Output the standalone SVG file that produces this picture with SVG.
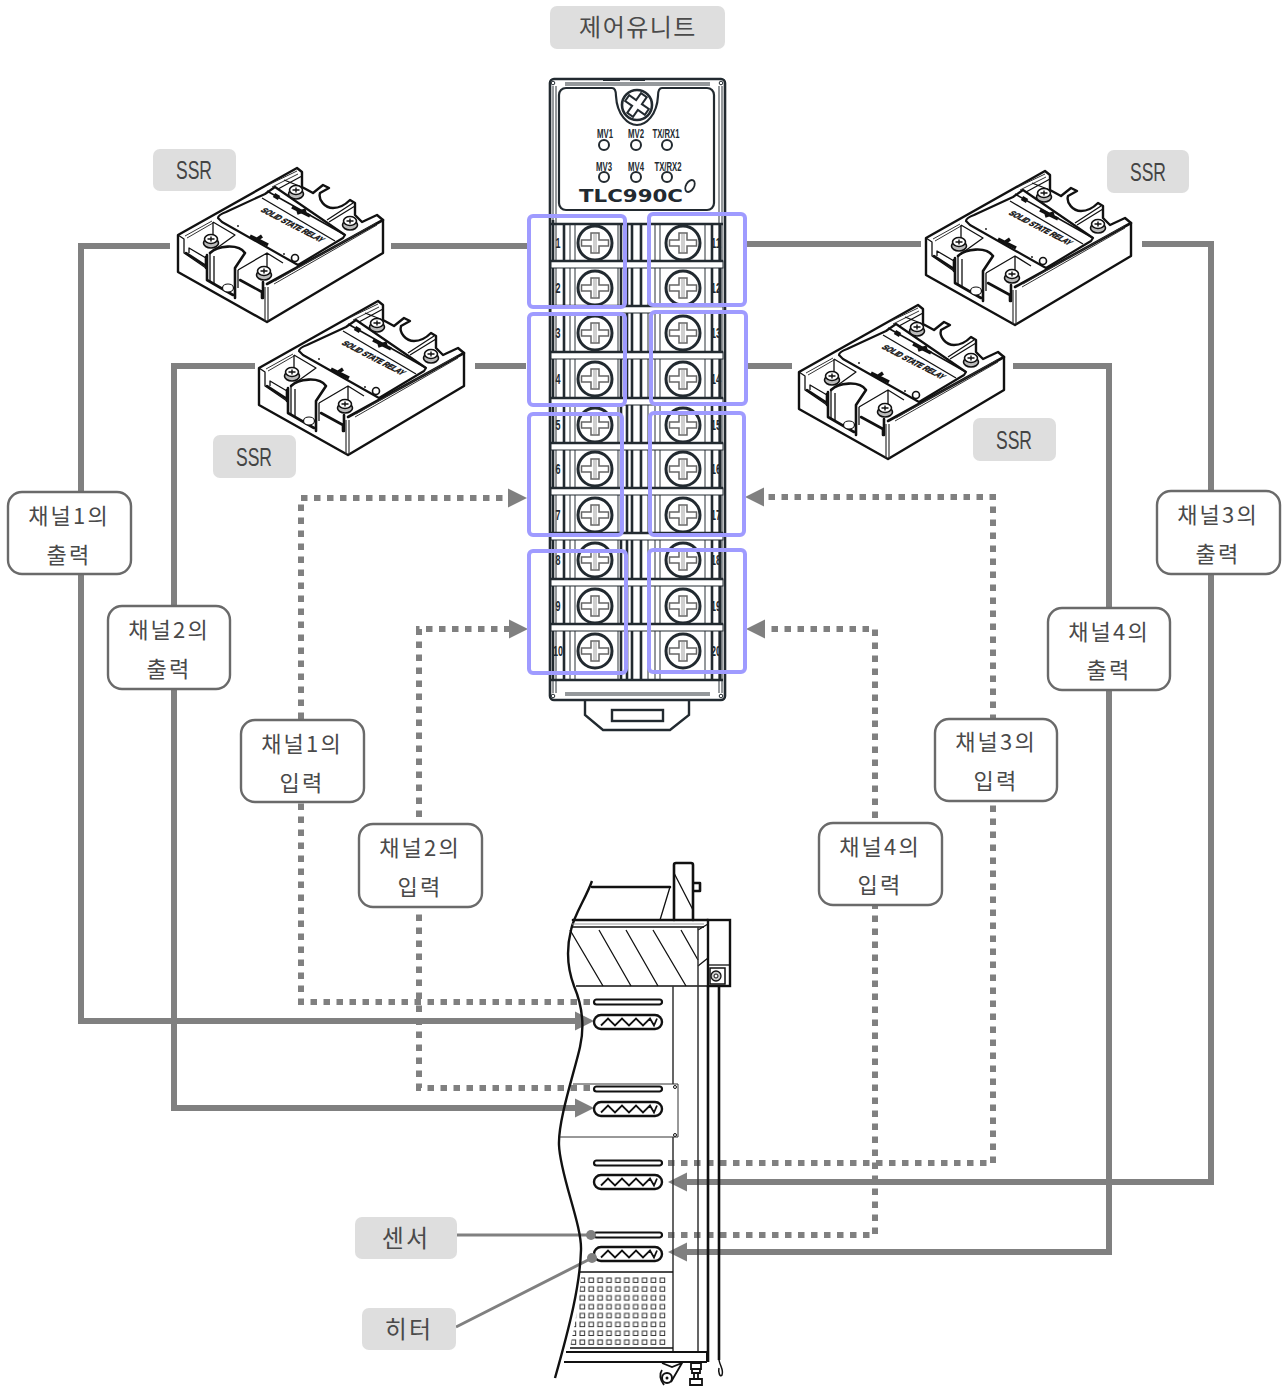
<svg xmlns="http://www.w3.org/2000/svg" width="1287" height="1394" viewBox="0 0 1287 1394">
<style>
.k{font-family:"Noto Sans CJK KR","Noto Sans",sans-serif;font-size:22px;fill:#4a4a4a;text-anchor:middle;font-weight:400;letter-spacing:2.2px}
.ssrt{font-family:"Liberation Sans",sans-serif;font-size:25px;fill:#444;text-anchor:middle}
.gray{fill:#dedede;stroke:none}
.box{fill:#fff;stroke:#6a6a6a;stroke-width:2.4}
.p{fill:none;stroke:#9f9bff;stroke-width:4}
.w{fill:none;stroke:#808080;stroke-width:6}
.d{fill:none;stroke:#808080;stroke-width:6;stroke-dasharray:6.5 6.5}
.t{fill:none;stroke:#111;stroke-width:1.3;stroke-linejoin:round}
.h{fill:none;stroke:#111;stroke-width:2.6;stroke-linejoin:round;stroke-linecap:round}
.dk{fill:none;stroke:#222a30;stroke-width:2.6}
.lt{fill:none;stroke:#2b3238;stroke-width:1}
.mv{font-family:"Liberation Sans",sans-serif;font-size:12px;font-weight:bold;fill:#222a30;text-anchor:middle}
.n{font-family:"Liberation Sans",sans-serif;font-size:14px;font-weight:bold;fill:#222a30;text-anchor:middle}
</style>
<defs>
<marker id="a" markerUnits="userSpaceOnUse" markerWidth="21" markerHeight="22" refX="0" refY="11" orient="auto"><path d="M0,1.5L19,11L0,20.5Z" fill="#808080"/></marker>
<pattern id="grid" patternUnits="userSpaceOnUse" x="579" y="1277" width="8.9" height="8.85"><rect x="1" y="1" width="4.6" height="4.4" fill="#fff" stroke="#333" stroke-width="1"/></pattern>
<g id="screw">
<circle r="17" fill="#fff" stroke="#222a30" stroke-width="3"/>
<path d="M-4,-10H4V-3H13.5V3H4V10H-4V3H-13.5V-3H-4Z" fill="#fff" stroke="#666" stroke-width="1.5"/>
<path d="M-1,-9V9M1,-9V9" stroke="#888" stroke-width=".8"/>
</g>
<g id="cap">
<ellipse cx="0" cy="3" rx="7.5" ry="5" fill="#bbb" stroke="#111" stroke-width="1.6"/>
<ellipse cx="0" cy="-1" rx="6.5" ry="4.5" fill="#fff" stroke="#111" stroke-width="1.6"/>
<path d="M-3.5,-1H3.5M0,-3.5V1.5" stroke="#111" stroke-width="1.4"/>
</g>
<g id="heater">
<rect x="-34" y="-7" width="68" height="14" rx="7" fill="#fff" stroke="#111" stroke-width="2.4"/>
<path d="M-27,3.5L-20,-3.5L-13,3.5L-6,-3.5L1,3.5L8,-3.5L15,3.5L22,-3.5L26,3.5L29,-3.5" fill="none" stroke="#111" stroke-width="1.8"/>
</g>
<g id="sensor"><rect x="-34" y="-2.5" width="68" height="5" rx="2.5" fill="#fff" stroke="#111" stroke-width="2.2"/></g>
<g id="ssr">
<path d="M178,235L297,168L302,172V187L313,193L323,185L329,188L320,193C318,200 325,208 333,208C340,208 346,204 350,200L355,203V215L362,222L377,215L383,220V253L267,322L178,272Z" fill="#fff" stroke="#111" stroke-width="2.4" stroke-linejoin="round"/>
<path d="M185,236L212,221M187,238L213,223M270,184L297,171M272,187L298,174" stroke="#333" stroke-width="1" fill="none"/>
<path class="t" d="M178,235L184,239V253L187,255L206,268V258L189,248V253M184,239"/>
<path class="h" d="M186,253L206,266M206,257V268"/>
<path class="t" d="M213,222V238M213,222L235,235L210,253"/>
<path class="h" d="M210,253C217,246 238,243 245,253L235,268V298M207,255V280L233,295"/>
<path class="t" d="M210,253V281M214,256V283M238,270V288"/>
<ellipse cx="228" cy="288" rx="5.5" ry="4" fill="#fff" stroke="#111" stroke-width="1.2"/>
<path class="t" d="M238,270L267,253L283,263M267,253V270"/>
<path class="h" d="M240,280L262,292M262,292V298M263,282V298"/>
<path class="h" d="M267,284L383,220"/>
<path d="M274,284L377,225M275,281L376,223" stroke="#333" stroke-width="1" fill="none"/>
<path d="M265,287V321M268,287V321" stroke="#333" stroke-width="1.2" fill="none"/>
<path class="t" d="M302,187L284,180M278,189L302,176M327,220L353,203M329,222L355,206"/>
<path d="M218,218Q218,215 226,212L265,194L275,187L345,235L343,238L298,265L222,222Z" fill="#fff" stroke="#111" stroke-width="2.2" stroke-linejoin="round"/>
<path class="t" d="M262,198L335,241"/>
<path d="M267,191L345,235" stroke="#111" stroke-width="1.6"/>
<circle cx="295" cy="258" r="3.5" fill="#fff" stroke="#111" stroke-width="1.6"/>
<circle cx="284" cy="254" r=".9" fill="#111"/><circle cx="238" cy="226" r=".9" fill="#111"/>
<path d="M250,236L268,245M256,240L262,236" stroke="#111" stroke-width="3.6" fill="none"/>
<path d="M292,207L310,216M297,213L306,210" stroke="#111" stroke-width="3.6" fill="none"/>
<path d="M274,195L279,198" stroke="#111" stroke-width="4.5" fill="none"/>
<text transform="matrix(.89 .46 -.75 .5 260 211)" font-family="Liberation Sans,sans-serif" font-size="10" font-weight="bold" fill="#111" stroke="#111" stroke-width=".6" textLength="68" lengthAdjust="spacingAndGlyphs">SOLID STATE RELAY</text>
<use href="#cap" x="211" y="240"/><use href="#cap" x="264" y="272"/><use href="#cap" x="296" y="191"/><use href="#cap" x="350" y="222"/>
</g>
</defs>
<rect width="1287" height="1394" fill="#fff"/>

<g id="connectors">
<path class="w" d="M170,246H81V1021H575" marker-end="url(#a)"/>
<path class="w" d="M391,246H528"/>
<path class="w" d="M255,366H174V1108H575" marker-end="url(#a)"/>
<path class="w" d="M475,366H526"/>
<path class="w" d="M1142,244H1211V1182H687" marker-end="url(#a)"/>
<path class="w" d="M746,244H921"/>
<path class="w" d="M1013,366H1109V1252H687" marker-end="url(#a)"/>
<path class="w" d="M746,366H792"/>
<path class="d" d="M590,1002H301V498H508" marker-end="url(#a)"/>
<path class="d" d="M590,1088H419V629H509" marker-end="url(#a)"/>
<path class="d" d="M668,1163H993V497H764" marker-end="url(#a)"/>
<path class="d" d="M668,1235H875V629H765" marker-end="url(#a)"/>
<path d="M457,1235H591M456,1327L592,1258" fill="none" stroke="#808080" stroke-width="3"/>
</g>

<g id="ssr1"><use href="#ssr"/></g>
<g id="ssr2"><use href="#ssr" x="81" y="133"/></g>
<g id="ssr3"><use href="#ssr" x="748" y="3"/></g>
<g id="ssr4"><use href="#ssr" x="621" y="137"/></g>

<g id="control-unit">
<path d="M585,700V715L603,730H670L689,715V700" fill="#fff" stroke="#222a30" stroke-width="2.4"/>
<rect x="612" y="710" width="51" height="11" fill="#fff" stroke="#222a30" stroke-width="2.4"/>
<rect x="550" y="79" width="175" height="621" rx="4" fill="#fff" stroke="#222a30" stroke-width="2.6"/>
<path class="lt" d="M553,86V693M556,86V693M722,86V693M719,86V693M565,83H710M565,85H710M565,693H710M565,695H710"/>
<path d="M603,80H620M630,80H645" stroke="#222a30" stroke-width="2"/>
<g fill="#fff" stroke="#222a30" stroke-width="1"><circle cx="553" cy="83" r="1.8"/><circle cx="721" cy="83" r="1.8"/><circle cx="553" cy="696" r="1.8"/><circle cx="721" cy="696" r="1.8"/></g>
<path d="M566,88H612Q616,88 616,96C617,115 628,125 637,125C646,125 657,115 658,96Q658,88 662,88H707C711,88 714,91 714,95V203C714,207 711,210 707,210H566C562,210 559,207 559,203V95C559,91 562,88 566,88Z" fill="#fff" stroke="#222a30" stroke-width="2.2"/>
<circle cx="637" cy="105" r="15" fill="#fff" stroke="#222a30" stroke-width="2.6"/>
<path transform="translate(637,105) rotate(35)" d="M-3.5,-12H3.5V-3.5H12V3.5H3.5V12H-3.5V3.5H-12V-3.5H-3.5Z" fill="#fff" stroke="#222a30" stroke-width="2"/>
<text class="mv" x="605" y="138" textLength="16" lengthAdjust="spacingAndGlyphs">MV1</text><text class="mv" x="636" y="138" textLength="16" lengthAdjust="spacingAndGlyphs">MV2</text><text class="mv" x="666" y="138" textLength="27" lengthAdjust="spacingAndGlyphs">TX/RX1</text>
<text class="mv" x="604" y="171" textLength="16" lengthAdjust="spacingAndGlyphs">MV3</text><text class="mv" x="636" y="171" textLength="16" lengthAdjust="spacingAndGlyphs">MV4</text><text class="mv" x="668" y="171" textLength="27" lengthAdjust="spacingAndGlyphs">TX/RX2</text>
<g fill="#fff" stroke="#222a30" stroke-width="2"><circle cx="604" cy="145" r="5"/><circle cx="636" cy="145" r="5"/><circle cx="667" cy="145" r="5"/><circle cx="604" cy="177" r="5"/><circle cx="636" cy="177" r="5"/><circle cx="667" cy="177" r="5"/></g>
<text x="631" y="202" font-family="DejaVu Sans,sans-serif" font-size="17" font-weight="bold" fill="#222a30" text-anchor="middle" textLength="104" lengthAdjust="spacingAndGlyphs">TLC990C</text>
<ellipse cx="690" cy="186" rx="4" ry="6.5" fill="none" stroke="#222a30" stroke-width="1.8" transform="rotate(30 690 186)"/>
<path class="dk" d="M551,224H723M551,680H723"/>
<path class="dk" d="M553,220V680M564,224V680M621,224V680M627,224V680M632,224V680M641,224V680M712,224V680M720,224V680"/>
<path class="lt" d="M570,224V680M575,224V680M618,224V680M648,224V680M655,224V680M660,224V680M705,224V680"/>
<g fill="#fff" stroke="#222a30">
<rect x="551" y="261" width="172" height="7" stroke-width="1"/><rect x="551" y="306" width="172" height="7" stroke-width="1"/><rect x="551" y="352" width="172" height="7" stroke-width="1"/><rect x="551" y="398" width="172" height="7" stroke-width="1"/><rect x="551" y="443" width="172" height="7" stroke-width="1"/><rect x="551" y="488" width="172" height="7" stroke-width="1"/><rect x="551" y="533" width="172" height="7" stroke-width="1"/><rect x="551" y="579" width="172" height="7" stroke-width="1"/><rect x="551" y="624" width="172" height="7" stroke-width="1"/>
</g>
<path d="M551,261H723M551,306H723M551,352H723M551,398H723M551,443H723M551,488H723M551,533H723M551,579H723M551,624H723" stroke="#222a30" stroke-width="2.6" fill="none"/>
<use href="#screw" x="595" y="243"/><use href="#screw" x="595" y="288"/><use href="#screw" x="595" y="333"/><use href="#screw" x="595" y="379"/><use href="#screw" x="595" y="425"/><use href="#screw" x="595" y="469"/><use href="#screw" x="595" y="515"/><use href="#screw" x="595" y="560"/><use href="#screw" x="595" y="606"/><use href="#screw" x="595" y="651"/>
<use href="#screw" x="683" y="243"/><use href="#screw" x="683" y="288"/><use href="#screw" x="683" y="333"/><use href="#screw" x="683" y="379"/><use href="#screw" x="683" y="425"/><use href="#screw" x="683" y="469"/><use href="#screw" x="683" y="515"/><use href="#screw" x="683" y="560"/><use href="#screw" x="683" y="606"/><use href="#screw" x="683" y="651"/>
<g>
<text class="n" x="558" y="248" textLength="5" lengthAdjust="spacingAndGlyphs">1</text><text class="n" x="558" y="293" textLength="5" lengthAdjust="spacingAndGlyphs">2</text><text class="n" x="558" y="338" textLength="5" lengthAdjust="spacingAndGlyphs">3</text><text class="n" x="558" y="384" textLength="5" lengthAdjust="spacingAndGlyphs">4</text><text class="n" x="558" y="430" textLength="5" lengthAdjust="spacingAndGlyphs">5</text><text class="n" x="558" y="474" textLength="5" lengthAdjust="spacingAndGlyphs">6</text><text class="n" x="558" y="520" textLength="5" lengthAdjust="spacingAndGlyphs">7</text><text class="n" x="558" y="565" textLength="5" lengthAdjust="spacingAndGlyphs">8</text><text class="n" x="558" y="611" textLength="5" lengthAdjust="spacingAndGlyphs">9</text><text class="n" x="558" y="656" textLength="10" lengthAdjust="spacingAndGlyphs">10</text>
<text class="n" x="716" y="248" textLength="10" lengthAdjust="spacingAndGlyphs">11</text><text class="n" x="716" y="293" textLength="10" lengthAdjust="spacingAndGlyphs">12</text><text class="n" x="716" y="338" textLength="10" lengthAdjust="spacingAndGlyphs">13</text><text class="n" x="716" y="384" textLength="10" lengthAdjust="spacingAndGlyphs">14</text><text class="n" x="716" y="430" textLength="10" lengthAdjust="spacingAndGlyphs">15</text><text class="n" x="716" y="474" textLength="10" lengthAdjust="spacingAndGlyphs">16</text><text class="n" x="716" y="520" textLength="10" lengthAdjust="spacingAndGlyphs">17</text><text class="n" x="716" y="565" textLength="10" lengthAdjust="spacingAndGlyphs">18</text><text class="n" x="716" y="611" textLength="10" lengthAdjust="spacingAndGlyphs">19</text><text class="n" x="716" y="656" textLength="10" lengthAdjust="spacingAndGlyphs">20</text>
</g>
</g>

<g id="channel-groups">
<rect class="p" x="529" y="216" width="96" height="91" rx="4"/><rect class="p" x="529" y="314" width="96" height="91" rx="4"/><rect class="p" x="529" y="414" width="93" height="121" rx="4"/><rect class="p" x="529" y="551" width="97" height="122" rx="4"/>
<rect class="p" x="649" y="214" width="96" height="91" rx="4"/><rect class="p" x="651" y="312" width="95" height="92" rx="4"/><rect class="p" x="650" y="413" width="94" height="122" rx="4"/><rect class="p" x="649" y="550" width="96" height="122" rx="4"/>
</g>

<g id="chamber">
<path d="M592,881C585,900 574,915 571,930C566,950 568,970 574,986C582,1005 585,1025 580,1047C575,1070 558,1120 559,1145C560,1175 582,1225 581,1250C580,1285 570,1325 555,1378" fill="none" stroke="#111" stroke-width="2.4"/>
<path class="h" d="M592,887H670M674,920V865Q674,863 676,863H691Q693,863 693,865V920M693,883H700V891H693"/>
<path class="t" d="M670,887L660,920M674,873L693,910"/>
<path class="h" d="M573,920H708"/>
<path d="M572,927H704" stroke="#111" stroke-width="1.5"/>
<path d="M572,924H704" stroke="#999" stroke-width="1"/>
<path class="t" d="M570,930L603,986M599,930L631,986M626,930L658,986M653,930L686,986M681,930L698,960M698,966L708,958M698,930L708,924"/>
<path d="M576,986H708" stroke="#111" stroke-width="1.5"/>
<rect x="708" y="920" width="22" height="66" fill="#fff" stroke="#111" stroke-width="2.4"/>
<path class="t" d="M708,965H730"/>
<rect x="710" y="968" width="15" height="16" fill="#fff" stroke="#111" stroke-width="1.5"/>
<circle cx="716" cy="976" r="5" fill="#ccc" stroke="#111" stroke-width="1.3"/><circle cx="716" cy="976" r="2" fill="#fff" stroke="#111"/>
<path d="M673,986V1084M673,1137V1352M698,927V1352" stroke="#333" stroke-width="1.5" fill="none"/>
<path d="M708,986V1362M719,986V1360" stroke="#111" stroke-width="2.6" fill="none"/>
<path d="M719,1360C720,1366 724,1370 722,1375C720,1378 718,1372 719,1368" fill="none" stroke="#111" stroke-width="1.5"/>
<path d="M573,1084H678V1137H560" fill="none" stroke="#333" stroke-width="1"/>
<circle cx="675" cy="1087" r="1.5" fill="#fff" stroke="#111"/><circle cx="675" cy="1135" r="1.5" fill="#fff" stroke="#111"/>
<path d="M580,1272H673M570,1348H673" stroke="#111" stroke-width="1.3"/>
<path d="M581,1277H667V1347H570C574,1330 578,1310 581,1277Z" fill="url(#grid)"/>
<path d="M566,1352H707M564,1362H707" stroke="#111" stroke-width="2"/>
<path d="M707,1352V1362" stroke="#111" stroke-width="2"/>
<path d="M662,1363L672,1367L682,1363L671,1382M662,1370C659,1374 660,1380 664,1385" fill="none" stroke="#111" stroke-width="1.8"/>
<circle cx="667" cy="1378" r="5" fill="#fff" stroke="#111" stroke-width="2"/><circle cx="667" cy="1378" r="1.5" fill="#111"/>
<path d="M691,1363H701V1369H691ZM692,1369H700V1373H692ZM694,1373H698V1379H694ZM690,1379H702V1385H690Z" fill="#fff" stroke="#111" stroke-width="1.8"/>
<use href="#sensor" x="628" y="1002"/><use href="#heater" x="628" y="1022"/>
<use href="#sensor" x="628" y="1089"/><use href="#heater" x="628" y="1109"/>
<use href="#sensor" x="628" y="1163"/><use href="#heater" x="628" y="1182"/>
<use href="#sensor" x="628" y="1235"/><use href="#heater" x="628" y="1254"/>
<circle cx="591" cy="1235" r="5" fill="#808080"/><circle cx="592" cy="1258" r="5" fill="#808080"/>
</g>

<g id="label-control"><rect class="gray" x="550" y="6" width="175" height="43" rx="7"/><text class="k" x="638" y="36" style="font-size:24px;letter-spacing:1.5px">제어유니트</text></g>
<g id="label-ssr1"><rect class="gray" x="153" y="149" width="83" height="42" rx="7"/><text class="ssrt" x="194" y="179" textLength="36" lengthAdjust="spacingAndGlyphs">SSR</text></g>
<g id="label-ssr2"><rect class="gray" x="213" y="435" width="83" height="43" rx="7"/><text class="ssrt" x="254" y="466" textLength="36" lengthAdjust="spacingAndGlyphs">SSR</text></g>
<g id="label-ssr3"><rect class="gray" x="1107" y="150" width="82" height="43" rx="7"/><text class="ssrt" x="1148" y="181" textLength="36" lengthAdjust="spacingAndGlyphs">SSR</text></g>
<g id="label-ssr4"><rect class="gray" x="973" y="418" width="83" height="43" rx="7"/><text class="ssrt" x="1014" y="449" textLength="36" lengthAdjust="spacingAndGlyphs">SSR</text></g>
<g id="label-sensor"><rect class="gray" x="355" y="1217" width="102" height="42" rx="7"/><text class="k" x="406" y="1247" style="font-size:24px">센서</text></g>
<g id="label-heater"><rect class="gray" x="362" y="1308" width="94" height="42" rx="7"/><text class="k" x="409" y="1338" style="font-size:24px">히터</text></g>

<g id="ch1-out"><rect class="box" x="8" y="492" width="123" height="82" rx="14"/><text class="k" x="69" y="524">채널1의</text><text class="k" x="69" y="563">출력</text></g>
<g id="ch2-out"><rect class="box" x="108" y="606" width="122" height="83" rx="14"/><text class="k" x="169" y="638">채널2의</text><text class="k" x="169" y="677">출력</text></g>
<g id="ch1-in"><rect class="box" x="241" y="720" width="123" height="82" rx="14"/><text class="k" x="302" y="752">채널1의</text><text class="k" x="302" y="791">입력</text></g>
<g id="ch2-in"><rect class="box" x="359" y="824" width="123" height="83" rx="14"/><text class="k" x="420" y="856">채널2의</text><text class="k" x="420" y="895">입력</text></g>
<g id="ch4-in"><rect class="box" x="819" y="823" width="123" height="82" rx="14"/><text class="k" x="880" y="855">채널4의</text><text class="k" x="880" y="893">입력</text></g>
<g id="ch3-in"><rect class="box" x="935" y="719" width="122" height="82" rx="14"/><text class="k" x="996" y="750">채널3의</text><text class="k" x="996" y="789">입력</text></g>
<g id="ch4-out"><rect class="box" x="1048" y="608" width="122" height="82" rx="14"/><text class="k" x="1109" y="640">채널4의</text><text class="k" x="1109" y="678">출력</text></g>
<g id="ch3-out"><rect class="box" x="1157" y="491" width="123" height="83" rx="14"/><text class="k" x="1218" y="523">채널3의</text><text class="k" x="1218" y="562">출력</text></g>
</svg>
